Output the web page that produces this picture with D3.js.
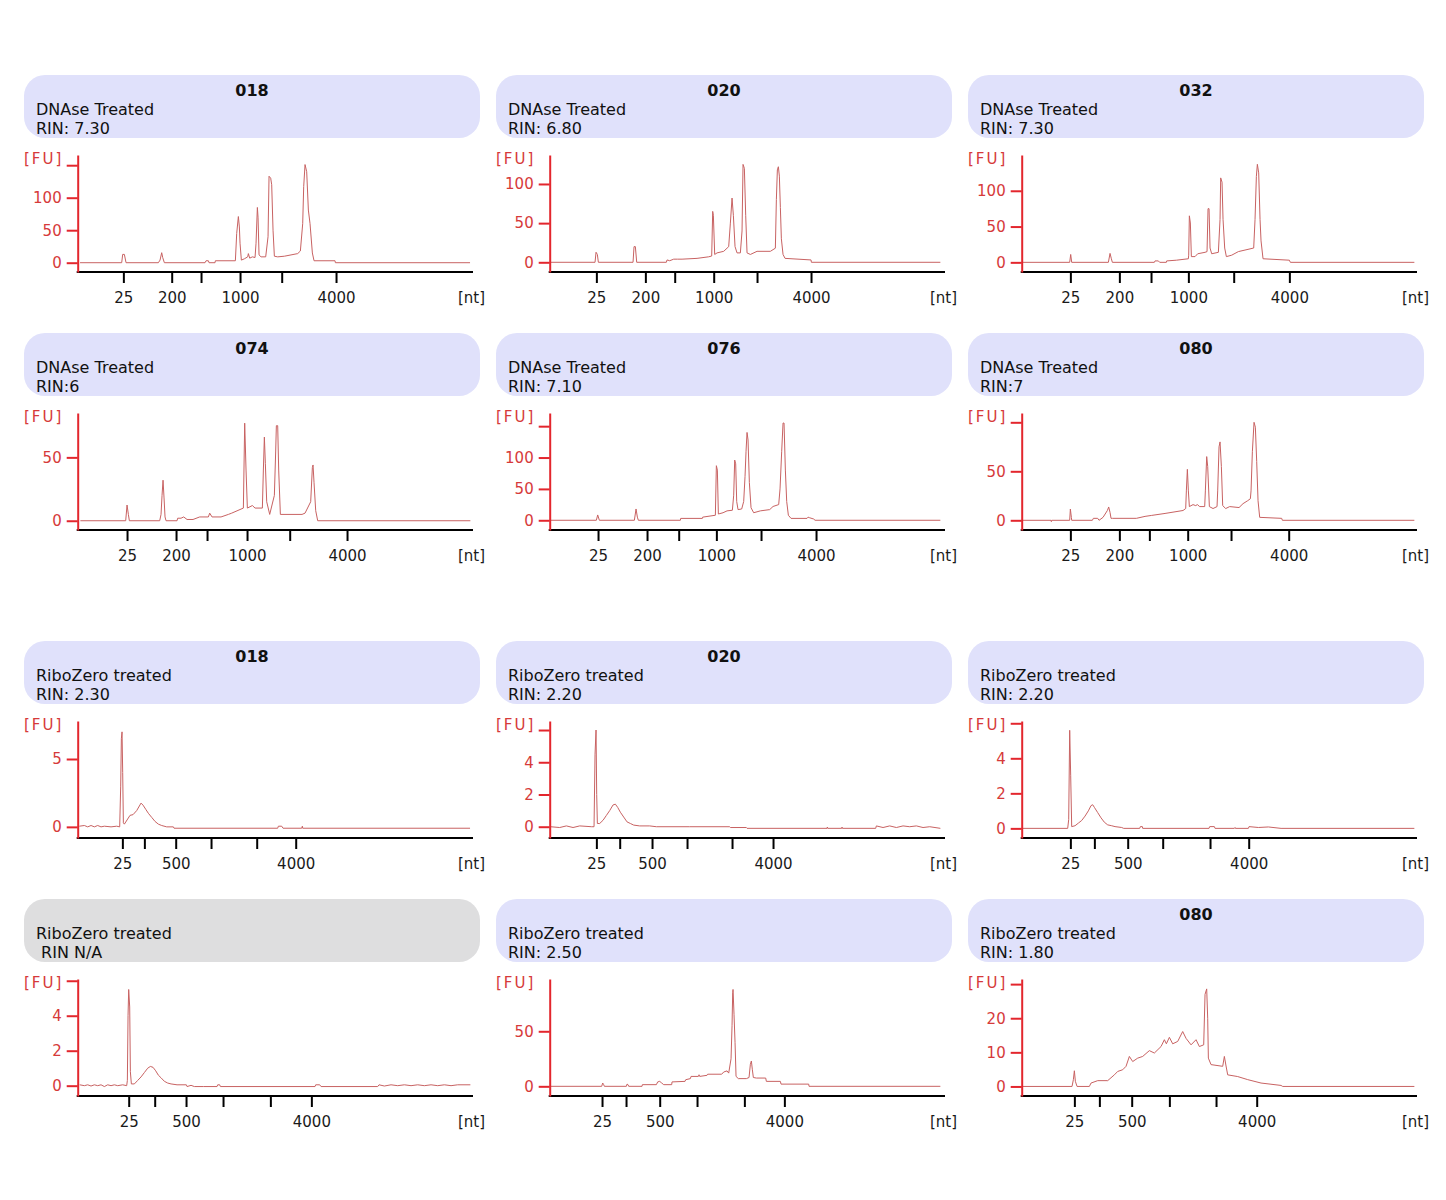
<!DOCTYPE html>
<html>
<head>
<meta charset="utf-8">
<script src="https://cdn.jsdelivr.net/npm/d3@7"></script>
<style>
  body { margin: 0; background: #fff; }
  svg { display: block; }
  text { font-family: "DejaVu Sans", Verdana, sans-serif; }
</style>
</head>
<body>
<div id="chart"></div>
<script>
// Bioanalyzer electropherograms, DNAse treated (rows 1-2) and RiboZero treated (rows 3-4)
// x values are migration times [s], y values are fluorescence [FU]

const panelTitles = ["018", "020", "032", "074", "076", "080", "018", "020", "", "", "", "080"];
const panelTreatments = [
    "DNAse Treated", "DNAse Treated", "DNAse Treated",
    "DNAse Treated", "DNAse Treated", "DNAse Treated",
    "RiboZero treated", "RiboZero treated", "RiboZero treated",
    "RiboZero treated", "RiboZero treated", "RiboZero treated"
];
const panelRins = ["RIN: 7.30", "RIN: 6.80", "RIN: 7.30", "RIN:6", "RIN: 7.10", "RIN:7",
    "RIN: 2.30", "RIN: 2.20", "RIN: 2.20", " RIN N/A", "RIN: 2.50", "RIN: 1.80"];
const rinMissing = [false, false, false, false, false, false, false, false, false, true, false, false];

// y range of each panel (FU at the x axis line and at the top of the y axis)
const yBottoms = [-14.3, -12.4, -13.5, -7.3, -15.5, -9.9, -0.82, -0.70, -0.55, -0.59, -8.8, -2.8];
const yTops = [165.7, 137, 150, 85, 171, 109.5, 7.8, 6.56, 6.13, 6.1, 97.5, 31.5];
const yTickValues = [
    [0, 50, 100, 150], [0, 50, 100], [0, 50, 100],
    [0, 50], [0, 50, 100, 150], [0, 50, 100],
    [0, 5], [0, 2, 4, 6], [0, 2, 4, 6],
    [0, 2, 4, 6], [0, 50], [0, 10, 20, 30]
];
const yTickLabels = [
    ["0", "50", "100", ""], ["0", "50", "100"], ["0", "50", "100"],
    ["0", "50"], ["0", "50", "100", ""], ["0", "50", ""],
    ["0", "5"], ["0", "2", "4", ""], ["0", "2", "4", ""],
    ["0", "2", "4", ""], ["0", "50"], ["0", "10", "20", ""]
];

// ladder positions (migration time of 25, 200, 500, 1000, 2000, 4000 nt)
const xTickTimes = [
    [26.85, 34.1, 38.5, 44.35, 50.6, 58.75],
    [27.0, 34.35, 38.75, 44.6, 51.1, 59.2],
    [27.3, 34.65, 39.4, 45.0, 51.8, 60.15],
    [27.4, 34.75, 39.4, 45.4, 51.8, 60.4],
    [27.25, 34.6, 39.35, 45.0, 51.7, 59.95],
    [27.3, 34.65, 39.15, 44.9, 51.4, 60.05],
    [26.7, 30.0, 34.7, 40.0, 46.85, 52.7],
    [27.0, 30.5, 35.35, 40.6, 47.35, 53.5],
    [27.3, 30.9, 35.9, 41.15, 48.25, 54.05],
    [27.65, 31.55, 36.25, 41.8, 48.9, 55.05],
    [27.85, 31.45, 36.5, 42.1, 49.2, 55.2],
    [27.9, 31.65, 36.5, 42.15, 49.15, 55.25]
];
const xTickLabelsDNAse = ["25", "200", "", "1000", "", "4000"];
const xTickLabelsRibo = ["25", "", "500", "", "", "4000"];

const traceDnase018 = [[20.35,0],[26.6,0],[26.75,12.8],[27.0,12.8],[27.25,0],[32.1,0],[32.35,4],[32.6,15.4],[32.75,8],[33.0,0],
    [39.1,0],[39.25,3],[39.6,3],[39.7,0],[40.6,0],[40.65,3],[43.65,3],[43.85,45],[44.1,71],[44.25,55],[44.35,30],[44.55,4],
    [45.0,6],[45.5,9],[45.6,14],[45.8,7],[46.2,9],[46.6,8],[46.75,30],[46.95,85],[47.05,70],[47.2,12],[47.5,9],[48.2,9],
    [48.55,40],[48.7,133],[48.95,130],[49.1,120],[49.3,50],[49.5,10],[50.0,9],[51.0,10],[53.0,14],[53.4,18],[53.75,60],
    [53.9,117],[54.1,151],[54.35,140],[54.6,81],[54.85,60],[55.2,15],[55.45,3],[58.6,3],[58.65,0],[78.85,0]];
const traceDnase020 = [[20.1,0],[26.8,0],[26.95,12.8],[27.15,10],[27.3,0],[32.5,0],[32.65,20],[32.85,20],[33.05,0],[37.5,0],
    [37.6,3],[38.0,2],[38.6,4],[39.2,4],[39.85,4],[42.1,5],[43.85,7],[44.3,8],[44.45,65],[44.55,60],[44.75,10],[45.1,12],
    [46.1,14],[46.85,20],[47.1,50],[47.35,82],[47.55,60],[47.8,20],[48.1,12],[48.6,12],[48.85,40],[49.0,125],[49.2,120],
    [49.4,60],[49.6,12],[50.1,10],[51.1,14],[53.1,14],[53.85,18],[54.0,80],[54.15,118],[54.3,122],[54.45,110],[54.6,70],
    [54.75,30],[55.0,10],[55.3,5],[59.2,3],[59.25,0],[78.6,0]];
const traceDnase032 = [[20.0,0],[27.2,0],[27.35,11],[27.5,0],[33.0,0],[33.25,12.5],[33.45,5],[33.6,0],[39.9,0],[40.0,2],
    [40.5,2],[40.7,0],[41.7,0],[41.75,2],[43.2,3],[45.0,5],[45.05,10],[45.15,65],[45.3,55],[45.45,8],[46.0,8],[46.4,12],
    [47.5,14],[47.8,15],[47.95,75],[48.1,75],[48.25,20],[48.5,12],[49.5,14],[49.75,60],[49.85,118],[50.05,112],[50.2,60],
    [50.45,20],[50.7,8],[51.5,10],[52.5,15],[54.8,20],[55.0,60],[55.2,120],[55.35,137],[55.55,125],[55.75,60],[55.9,30],
    [56.2,5],[60.15,3],[60.3,0],[78.9,0]];
const traceDnase074 = [[20.4,0],[27.2,0],[27.4,12.4],[27.6,5],[27.75,0],[32.3,0],[32.5,5],[32.65,20],[32.8,32],[32.95,18],
    [33.1,3],[33.25,0],[34.9,0],[35.0,2],[35.5,2],[35.9,3],[36.4,1],[37.3,1],[38.3,3],[39.6,3],[39.8,6],[40.15,3],[41.5,3],
    [42.6,5],[43.1,6],[44.85,10],[45.05,77],[45.25,40],[45.45,10],[46.2,12],[46.6,10],[47.7,10],[47.85,40],[48.0,66],
    [48.15,45],[48.35,15],[48.8,5],[49.5,20],[49.7,55],[49.8,75],[50.0,75],[50.15,40],[50.4,5],[53.65,5],[54.1,6],[54.95,15],
    [55.2,42],[55.3,44],[55.45,30],[55.7,8],[56.0,0],[78.9,0]];
const traceDnase076 = [[20.0,0],[27.0,0],[27.2,8.5],[27.45,0],[32.7,0],[32.95,18],[33.15,5],[33.3,0],[39.6,0],[39.65,3],
    [42.9,3],[42.95,5],[44.85,8],[45.0,87],[45.15,80],[45.3,10],[46.0,12],[46.6,15],[47.4,16],[47.6,40],[47.75,96],
    [47.9,90],[48.05,30],[48.25,17],[48.8,18],[49.1,30],[49.3,70],[49.45,110],[49.6,140],[49.75,128],[49.95,60],[50.2,20],
    [50.6,12],[51.6,15],[53.0,17],[53.5,22],[54.35,25],[54.55,50],[54.8,110],[55.0,155],[55.15,155],[55.35,80],[55.55,30],
    [55.8,8],[56.2,3],[58.6,3],[58.75,5],[59.0,4],[59.6,2],[59.8,0],[78.6,0]];
const traceDnase080 = [[20.0,0],[24.4,0],[24.45,-1.4],[24.5,0],[27.2,0],[27.3,11.5],[27.45,3],[27.5,0],[30.6,0],[30.75,2],
    [31.4,2],[31.6,0],[32.2,3],[32.85,10],[33.05,13.6],[33.25,8],[33.4,2],[33.6,2],[37.2,2],[38.5,4],[39.5,5],[41.5,7],
    [44.2,10],[44.6,12],[44.7,30],[44.85,52],[45.0,30],[45.15,14],[45.7,16],[46.1,15],[46.35,16],[46.7,14],[47.45,14],
    [47.55,30],[47.75,65],[47.9,55],[48.15,14],[48.7,12],[49.3,14],[49.4,30],[49.6,75],[49.75,80],[49.95,55],[50.15,15],
    [50.6,12],[51.2,14],[52.6,13],[53.2,17],[53.9,20],[54.3,22],[54.4,30],[54.6,70],[54.85,100],[55.05,95],[55.25,60],
    [55.45,20],[55.7,3],[59.0,2],[59.1,0],[78.9,0]];

const traceRibo018 = [[20.25,0.05],[21.0,0.1],[21.5,0],[22.0,0.1],[22.5,0],[23.0,0.1],[23.5,0],[24.0,0.05],[25.0,0],
    [25.85,0.05],[26.3,0],[26.45,3],[26.55,6.5],[26.65,7.0],[26.75,4],[26.85,0.3],[27.0,0.2],[27.85,0.85],[28.3,0.9],
    [28.85,1.2],[29.5,1.75],[29.8,1.6],[30.2,1.3],[30.6,1.0],[31.1,0.7],[31.6,0.4],[32.1,0.2],[32.6,0.1],[33.35,0],
    [34.35,0],[34.45,-0.1],[50.0,-0.1],[50.1,0.05],[50.6,0.05],[50.8,-0.1],[53.6,-0.1],[53.7,0.05],[53.75,-0.1],[78.85,-0.1]];
const traceRibo020 = [[20.1,0],[21.5,-0.05],[22.5,0.05],[23.5,-0.05],[24.5,0.05],[26.3,0],[26.65,0],[26.8,4.5],[26.95,6.0],
    [27.05,2],[27.15,0.2],[27.5,0.2],[28.0,0.4],[28.5,0.7],[29.0,1.0],[29.5,1.35],[29.85,1.4],[30.2,1.2],[30.6,0.9],
    [31.1,0.6],[31.6,0.3],[32.1,0.2],[32.6,0.1],[33.5,0.05],[35.0,0.05],[36.0,0],[41.0,0],[47.0,0],[47.1,-0.05],[49.5,-0.05],
    [49.6,-0.1],[61.6,-0.1],[61.65,-0.02],[61.7,-0.1],[63.8,-0.1],[63.85,-0.02],[63.9,-0.1],[68.9,-0.1],[69.0,0.05],
    [70.0,-0.05],[71.0,0.05],[72.0,-0.05],[73.0,0.05],[74.0,0],[75.0,0.05],[76.0,-0.05],[77.0,0],[78.6,-0.1]];
const traceRibo3 = [[20.0,0],[26.9,0],[27.05,0.5],[27.2,5.6],[27.35,3],[27.5,0.1],[28.0,0.15],[28.5,0.3],[29.0,0.45],
    [29.5,0.7],[30.0,1.0],[30.4,1.3],[30.65,1.35],[30.9,1.2],[31.4,0.9],[31.9,0.6],[32.4,0.35],[32.9,0.2],[33.5,0.15],
    [34.0,0.1],[35.0,0.05],[35.3,0],[37.7,0],[37.8,0.1],[38.1,0.1],[38.15,0],[48.1,0],[48.2,0.1],[48.9,0.1],[49.0,0],
    [51.9,0],[52.0,0.05],[52.05,0],[54.0,0],[54.1,0.1],[55.5,0.05],[57.0,0.08],[58.9,0],[78.9,0]];
const traceRiboNA = [[20.3,0.05],[21.0,0],[21.5,0.05],[22.0,-0.02],[22.5,0.05],[23.0,0],[23.5,0.05],[24.0,-0.05],[24.5,0.05],
    [25.0,0],[25.5,0.05],[26.0,0],[26.75,0.05],[27.35,0],[27.45,0.3],[27.55,4],[27.65,5.5],[27.8,4.5],[27.9,0.8],[28.05,0.1],
    [28.5,0.1],[29.0,0.3],[29.5,0.5],[30.0,0.75],[30.5,1.0],[30.9,1.1],[31.3,1.05],[31.7,0.85],[32.1,0.6],[32.5,0.45],
    [33.0,0.25],[33.5,0.15],[34.0,0.1],[34.9,0.05],[36.3,0.05],[36.4,-0.05],[37.0,0.02],[37.5,-0.05],[38.9,-0.05],
    [40.9,-0.05],[41.0,0.05],[41.3,0.05],[41.4,-0.05],[55.6,-0.05],[55.7,0.05],[56.3,0.05],[56.5,-0.05],[65.0,-0.05],
    [65.2,0.05],[66.0,-0.02],[67.0,0.05],[68.0,0],[69.0,0.05],[70.0,0],[71.0,0.05],[72.0,0],[73.0,0.05],[74.0,0],[75.0,0.05],
    [76.0,0],[77.0,0.05],[78.9,0.05]];
const traceRibo250 = [[20.1,0],[27.8,0],[27.95,3],[28.1,1.5],[28.2,0],[31.5,0],[31.6,2],[31.75,1.5],[31.85,0],[33.85,0],
    [33.9,1.5],[36.0,1.5],[36.2,4],[36.5,4.5],[36.8,3],[37.1,1.5],[38.3,1.5],[38.35,4],[40.3,4.5],[40.4,6],[41.1,7],[41.2,9],
    [42.3,9],[42.4,10.5],[42.5,9],[43.6,10],[43.7,11],[45.8,11],[46.1,13],[46.6,14],[46.85,12],[47.2,25],[47.35,55],
    [47.45,85],[47.5,88],[47.65,65],[47.8,40],[47.95,9],[48.3,7],[49.5,7],[49.9,8],[50.1,20],[50.25,23],[50.4,15],[50.55,8],
    [51.0,7.5],[52.4,7.5],[52.5,4.5],[54.6,4.5],[54.7,2],[58.85,2],[58.9,0],[78.6,0]];
const traceRibo080 = [[20.0,0],[27.55,0],[27.75,2],[27.9,4.6],[28.05,1.5],[28.3,0],[30.15,0],[30.4,1],[31.4,1.7],[32.9,1.7],
    [33.9,3.4],[34.4,4.4],[35.15,4.9],[35.65,5.9],[36.15,8.8],[36.65,7.3],[37.4,8.3],[38.15,8.8],[39.15,10.5],[39.9,9.8],
    [40.9,11.7],[41.4,13.7],[41.7,12.5],[42.15,14.4],[42.65,12.5],[43.4,13.2],[44.15,16.1],[44.65,14.1],[45.4,12.2],
    [46.15,13.7],[46.65,11.7],[47.3,12.2],[47.5,27],[47.75,28.6],[47.9,20],[48.0,8.3],[48.4,6.4],[50.15,5.9],[50.4,8.8],
    [50.65,6],[50.9,3.4],[52.4,2.9],[53.9,2],[55.9,1],[58.9,0.3],[59.15,0],[78.9,0]];

const traces = [traceDnase018, traceDnase020, traceDnase032, traceDnase074, traceDnase076, traceDnase080,
    traceRibo018, traceRibo020, traceRibo3, traceRiboNA, traceRibo250, traceRibo080];

// layout
const width = 1446, height = 1200;
const colX = [24, 496, 968];
const rowY = [75, 333, 641, 899];
const headerW = 456, headerH = 63;
const axisLeft = 53.7, axisRight = 449, axisTop = 80, axisBottom = 197;

const red = "#e3262d";
const redText = "#d63a3a";
const traceColor = "#c86262";

const svg = d3.select("#chart").append("svg")
    .attr("width", width)
    .attr("height", height);

const x = d3.scaleLinear()
    .domain([20, 80])
    .range([axisLeft, axisLeft + 400]);

traces.forEach(function(trace, i) {
    const g = svg.append("g")
        .attr("transform", `translate(${colX[i % 3]},${rowY[Math.floor(i / 3)]})`);

    // header box
    g.append("rect")
        .attr("width", headerW)
        .attr("height", headerH)
        .attr("rx", 21)
        .attr("fill", rinMissing[i] ? "#dededf" : "#e0e1fb");

    if (panelTitles[i] !== "")
        g.append("text")
            .attr("x", headerW / 2)
            .attr("y", 21)
            .attr("text-anchor", "middle")
            .attr("font-size", 16)
            .attr("font-weight", "bold")
            .attr("fill", "#111")
            .text(panelTitles[i]);

    g.append("text")
        .attr("x", 12).attr("y", 40)
        .attr("font-size", 16).attr("fill", "#111")
        .text(panelTreatments[i]);
    g.append("text")
        .attr("x", 12).attr("y", 59)
        .attr("font-size", 16).attr("fill", "#111")
        .style("white-space", "pre")
        .text(panelRins[i]);

    const y = d3.scaleLinear()
        .domain([yBottoms[i], yTops[i]])
        .range([axisBottom, axisTop]);

    // trace
    g.append("path")
        .datum(trace)
        .attr("fill", "none")
        .attr("stroke", traceColor)
        .attr("stroke-width", 1)
        .attr("stroke-linejoin", "round")
        .attr("d", d3.line().x(d => x(d[0])).y(d => y(d[1])));

    // x axis (ladder sizes)
    const xLabels = i < 6 ? xTickLabelsDNAse : xTickLabelsRibo;
    const xAxisG = g.append("g")
        .attr("transform", `translate(0,${axisBottom})`)
        .call(d3.axisBottom(x)
            .tickValues(xTickTimes[i])
            .tickFormat((d, j) => xLabels[j])
            .tickSize(11)
            .tickSizeOuter(0));
    xAxisG.select(".domain").remove();
    xAxisG.selectAll(".tick line").attr("stroke", "#000").attr("stroke-width", 2);
    xAxisG.selectAll(".tick text")
        .attr("y", 31).attr("dy", 0)
        .attr("font-size", 15)
        .attr("font-family", "DejaVu Sans, Verdana, sans-serif")
        .attr("fill", "#1a1a1a");
    g.append("line")
        .attr("x1", axisLeft - 1).attr("x2", axisRight)
        .attr("y1", axisBottom).attr("y2", axisBottom)
        .attr("stroke", "#000").attr("stroke-width", 2);

    // y axis
    const yAxisG = g.append("g")
        .attr("transform", `translate(${axisLeft},0)`)
        .call(d3.axisLeft(y)
            .tickValues(yTickValues[i])
            .tickFormat((d, j) => yTickLabels[i][j])
            .tickSize(11)
            .tickPadding(5)
            .tickSizeOuter(0));
    yAxisG.select(".domain").attr("stroke", red).attr("stroke-width", 2);
    yAxisG.selectAll(".tick line").attr("stroke", red).attr("stroke-width", 2);
    yAxisG.selectAll(".tick text")
        .attr("font-size", 15)
        .attr("font-family", "DejaVu Sans, Verdana, sans-serif")
        .attr("fill", redText);

    g.append("text")
        .attr("x", 0).attr("y", 89)
        .attr("font-size", 15)
        .attr("letter-spacing", 2)
        .attr("fill", redText)
        .text("[FU]");

    g.append("text")
        .attr("x", 461).attr("y", 228)
        .attr("text-anchor", "end")
        .attr("font-size", 15)
        .attr("fill", "#1a1a1a")
        .text("[nt]");
});
</script>
</body>
</html>
